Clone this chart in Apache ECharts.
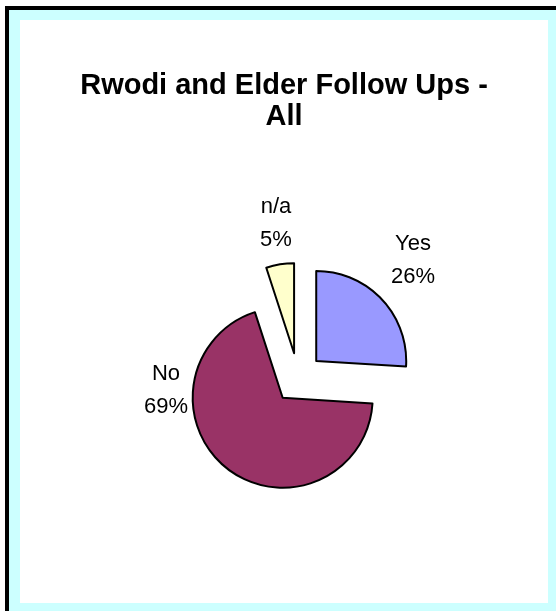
<!DOCTYPE html>
<html>
<head>
<meta charset="utf-8">
<script src="https://cdn.jsdelivr.net/npm/echarts@6/dist/echarts.min.js"></script>
<style>
html,body{margin:0;padding:0;background:#fff;}
#chart{width:556px;height:611px;}
</style>
</head>
<body>
<div id="chart"></div>
<script>
var categories = ['Yes', 'No', 'n/a'];
var values = [26, 69, 5];
var colors = ['#9999FF', '#993366', '#FFFFCC'];
var titleText = 'Rwodi and Elder Follow Ups -\nAll';

// label anchor points (block centres), by category order
var labelAnchors = [[413, 260], [166, 390], [276, 223]];

var chart = echarts.init(document.getElementById('chart'), null, {renderer: 'canvas'});

var total = values.reduce(function (a, b) { return a + b; }, 0);

var data = categories.map(function (c, i) {
  return {
    name: c,
    value: values[i],
    selected: true,
    itemStyle: {color: colors[i]},
    select: {itemStyle: {color: colors[i], borderColor: '#000', borderWidth: 2}}
  };
});

var labelGraphics = categories.map(function (c, i) {
  return {
    type: 'text',
    z: 10,
    silent: true,
    style: {
      text: c + '\n' + Math.round(values[i] / total * 100) + '%',
      x: labelAnchors[i][0],
      y: labelAnchors[i][1],
      align: 'center',
      verticalAlign: 'middle',
      font: '22px "Liberation Sans", Arial, sans-serif',
      lineHeight: 33,
      fill: '#000'
    }
  };
});

chart.setOption({
  animation: false,
  backgroundColor: '#fff',
  graphic: [
    {type: 'rect', z: -30, silent: true, shape: {x: 5, y: 6, width: 600, height: 700}, style: {fill: '#000'}},
    {type: 'rect', z: -29, silent: true, shape: {x: 9, y: 10, width: 600, height: 700}, style: {fill: '#CCFFFF'}},
    {type: 'rect', z: -28, silent: true, shape: {x: 20, y: 20, width: 528, height: 583}, style: {fill: '#FFFFFF'}}
  ].concat(labelGraphics),
  title: {
    text: titleText,
    left: 284,
    top: 70,
    textAlign: 'center',
    padding: 0,
    textStyle: {
      fontFamily: 'Liberation Sans, Arial, sans-serif',
      fontWeight: 'bold',
      fontSize: 29,
      lineHeight: 31,
      color: '#000'
    }
  },
  series: [{
    type: 'pie',
    center: [298, 378],
    radius: [0, 90],
    startAngle: 90,
    clockwise: true,
    selectedMode: 'multiple',
    selectedOffset: 25,
    avoidLabelOverlap: false,
    emphasis: {disabled: true},
    itemStyle: {borderColor: '#000', borderWidth: 2},
    label: {show: false},
    labelLine: {show: false},
    data: data
  }]
});
</script>
</body>
</html>
